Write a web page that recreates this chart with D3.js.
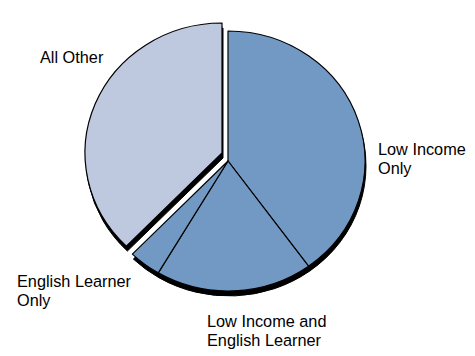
<!DOCTYPE html>
<html>
<head>
<meta charset="utf-8">
<script src="https://cdn.jsdelivr.net/npm/d3@7/dist/d3.min.js"></script>
<style>
  body { margin: 0; background: #fff; }
  text { font-family: "Liberation Sans", Arial, Helvetica, sans-serif; font-size: 16.3px; fill: #000; }
</style>
</head>
<body>
<div id="chart"></div>
<script>
// Share of students by group (percent)
var categories = ["Low Income Only", "Low Income and English Learner", "English Learner Only", "All Other"];
var shares = [40, 18.5, 3.8, 37.7];
var labelLines = [["Low Income", "Only"], ["Low Income and", "English Learner"], ["English Learner", "Only"], ["All Other"]];

var svgWidth = 475;
var svgHeight = 356;

// pie is drawn a bit flatter than a circle
var rx = 137;
var ry = 130;
var center = [228, 161];
var explode = [-6, -8];       // "All Other" is pulled out
var shadowOffset = [1, 5];    // black depth under the pie

var fillFor = function (cat) { return cat === "All Other" ? "#bec9df" : "#7299c4"; };

// label anchors (left, first baseline)
var labelPos = {
    "Low Income Only": [378, 155],
    "Low Income and English Learner": [207, 327],
    "English Learner Only": [17, 287],
    "All Other": [40, 63]
};

var data = categories.map(function (c, i) { return { cat: c, value: shares[i], lines: labelLines[i] }; });

var svg = d3.select("#chart").append("svg")
    .attr("width", svgWidth)
    .attr("height", svgHeight);

var pie = d3.pie().sort(null).value(function (d) { return d.value; });
var arc = d3.arc().innerRadius(0).outerRadius(rx);
var arcs = pie(data);

function sliceShift(d) {
    return d.data.cat === "All Other" ? explode : [0, 0];
}

// depth / shadow layer
svg.append("g").selectAll("path")
    .data(arcs)
    .enter()
    .append("path")
    .attr("transform", function (d) {
        var s = sliceShift(d);
        return "translate(" + (center[0] + s[0] + shadowOffset[0]) + "," + (center[1] + s[1] + shadowOffset[1]) + ") scale(1," + (ry / rx) + ")";
    })
    .attr("d", arc)
    .attr("fill", "#000")
    .attr("stroke", "#000")
    .attr("stroke-width", 1)
    .attr("vector-effect", "non-scaling-stroke");

// slice faces
svg.append("g").selectAll("path")
    .data(arcs)
    .enter()
    .append("path")
    .attr("transform", function (d) {
        var s = sliceShift(d);
        return "translate(" + (center[0] + s[0]) + "," + (center[1] + s[1]) + ") scale(1," + (ry / rx) + ")";
    })
    .attr("d", arc)
    .attr("fill", function (d) { return fillFor(d.data.cat); })
    .attr("stroke", "#000")
    .attr("stroke-width", 1.2)
    .attr("stroke-linejoin", "round")
    .attr("vector-effect", "non-scaling-stroke");

// labels
var labels = svg.append("g").selectAll("text")
    .data(data)
    .enter()
    .append("text")
    .attr("x", function (d) { return labelPos[d.cat][0]; })
    .attr("y", function (d) { return labelPos[d.cat][1]; });

labels.selectAll("tspan")
    .data(function (d) { return d.lines.map(function (l) { return { line: l, x: labelPos[d.cat][0] }; }); })
    .enter()
    .append("tspan")
    .attr("x", function (d) { return d.x; })
    .attr("dy", function (d, i) { return i === 0 ? 0 : 18.5; })
    .text(function (d) { return d.line; });
</script>
</body>
</html>
